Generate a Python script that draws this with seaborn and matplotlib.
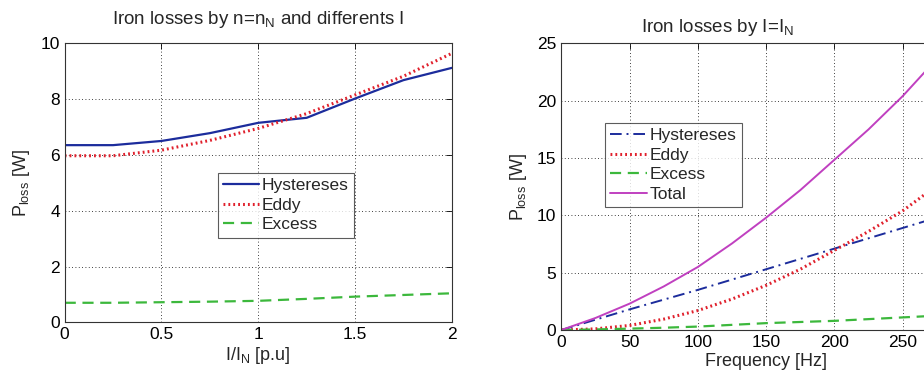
import numpy as np
import pandas as pd
import matplotlib
matplotlib.use("Agg")
import matplotlib.pyplot as plt
import seaborn as sns

# left panel: losses vs current at nominal speed
current = [0, 0.25, 0.5, 0.75, 1.0, 1.25, 1.5, 1.75, 2.0]
hyst_i = [6.35, 6.35, 6.5, 6.78, 7.15, 7.33, 8.02, 8.68, 9.12]
eddy_i = [5.97, 5.97, 6.17, 6.52, 6.95, 7.48, 8.15, 8.82, 9.64]
excess_i = [0.70, 0.70, 0.72, 0.74, 0.77, 0.84, 0.92, 0.98, 1.04]

# right panel: losses vs frequency at nominal current
freq = [0, 25, 50, 75, 100, 125, 150, 175, 200, 225, 250, 275, 300]
hyst_f = [0, 0.9, 1.8, 2.65, 3.5, 4.4, 5.3, 6.2, 7.1, 8.0, 8.9, 9.8, 10.7]
eddy_f = [0, 0.1, 0.4, 0.95, 1.7, 2.7, 3.9, 5.3, 6.95, 8.6, 10.4, 12.6, 14.9]
excess_f = [0, 0.05, 0.12, 0.2, 0.3, 0.45, 0.6, 0.7, 0.8, 0.95, 1.1, 1.25, 1.4]
total_f = [0, 1.05, 2.3, 3.8, 5.5, 7.55, 9.8, 12.2, 14.85, 17.5, 20.4, 23.65, 27.0]
freq_ticks = [0, 50, 100, 150, 200, 250, 300]
freq_ticklabels = ['0', '50', '100', '150', '200', '250', '']  # 300 falls off the page

sns.set_style("white")
plt.rcParams['font.family'] = ['Liberation Sans', 'DejaVu Sans']
plt.rcParams['mathtext.fontset'] = 'custom'
plt.rcParams['mathtext.rm'] = 'Liberation Sans'
plt.rcParams['mathtext.it'] = 'Liberation Sans'

BLUE = '#1c2c9c'
RED = '#e0202c'
GREEN = '#3cb83c'
MAGENTA = '#c040c0'

fig = plt.figure(figsize=(9.24, 3.76), dpi=100)
ax1 = fig.add_axes([0.070, 0.1428, 0.419, 0.742])
ax2 = fig.add_axes([0.6075, 0.1223, 0.4434, 0.7625])


def style_axes(ax):
    ax.grid(True, color='black', linestyle=(0, (1, 3)), linewidth=0.6)
    ax.tick_params(direction='in', length=4, width=0.6, labelsize=12.5,
                   top=True, right=True, colors='black')
    for s in ax.spines.values():
        s.set_color('#333333')
        s.set_linewidth(0.8)


def style_legend(leg):
    leg.get_frame().set_edgecolor('#333333')
    leg.get_frame().set_linewidth(0.8)


df1 = pd.DataFrame({'x': current, 'Hystereses': hyst_i, 'Eddy': eddy_i, 'Excess': excess_i})
sns.lineplot(data=df1, x='x', y='Hystereses', ax=ax1, color=BLUE, lw=1.6, label='Hystereses')
sns.lineplot(data=df1, x='x', y='Eddy', ax=ax1, color=RED, lw=2.2, label='Eddy',
             linestyle=(0, (0.6, 1.0)))
sns.lineplot(data=df1, x='x', y='Excess', ax=ax1, color=GREEN, lw=1.6, label='Excess',
             linestyle=(0, (5, 3)))
ax1.set_xlim(0, 2)
ax1.set_ylim(0, 10)
ax1.set_xticks([0, 0.5, 1, 1.5, 2])
ax1.set_xticklabels(['0', '0.5', '1', '1.5', '2'])
ax1.set_yticks([0, 2, 4, 6, 8, 10])
style_axes(ax1)
ax1.set_xlabel(r'I/I$_\mathrm{N}$ [p.u]', fontsize=13, labelpad=2)
ax1.set_ylabel(r'P$_\mathrm{loss}$ [W]', fontsize=13, labelpad=6)
ax1.set_title(r'Iron losses by n=n$_\mathrm{N}$ and differents I', fontsize=13.5, pad=14)
leg1 = ax1.legend(loc='upper left', bbox_to_anchor=(0.395, 0.535), fontsize=12.5,
                  frameon=True, fancybox=False, borderpad=0.3, labelspacing=0.25,
                  handlelength=2.1, handletextpad=0.15, borderaxespad=0)
style_legend(leg1)

df2 = pd.DataFrame({'f': freq, 'Hystereses': hyst_f, 'Eddy': eddy_f,
                    'Excess': excess_f, 'Total': total_f})
sns.lineplot(data=df2, x='f', y='Hystereses', ax=ax2, color=BLUE, lw=1.4, label='Hystereses',
             linestyle=(0, (6, 2.5, 1, 2.5)))
sns.lineplot(data=df2, x='f', y='Eddy', ax=ax2, color=RED, lw=2.2, label='Eddy',
             linestyle=(0, (0.6, 1.0)))
sns.lineplot(data=df2, x='f', y='Excess', ax=ax2, color=GREEN, lw=1.6, label='Excess',
             linestyle=(0, (5, 3)))
sns.lineplot(data=df2, x='f', y='Total', ax=ax2, color=MAGENTA, lw=1.4, label='Total')
ax2.set_xlim(0, 300)
ax2.set_ylim(0, 25)
ax2.set_xticks(freq_ticks)
ax2.set_xticklabels(freq_ticklabels)
ax2.set_yticks([0, 5, 10, 15, 20, 25])
style_axes(ax2)
ax2.set_xlabel('Frequency [Hz]', fontsize=13, labelpad=2)
ax2.set_ylabel(r'P$_\mathrm{loss}$ [W]', fontsize=13, labelpad=6)
ax2.set_title(r'Iron losses by I=I$_\mathrm{N}$', fontsize=13.5, x=0.38, pad=8)
leg2 = ax2.legend(loc='upper left', bbox_to_anchor=(0.107, 0.722), fontsize=12.5,
                  frameon=True, fancybox=False, borderpad=0.3, labelspacing=0.25,
                  handlelength=2.1, handletextpad=0.15, borderaxespad=0)
style_legend(leg2)

fig.savefig('out.png', dpi=100)
